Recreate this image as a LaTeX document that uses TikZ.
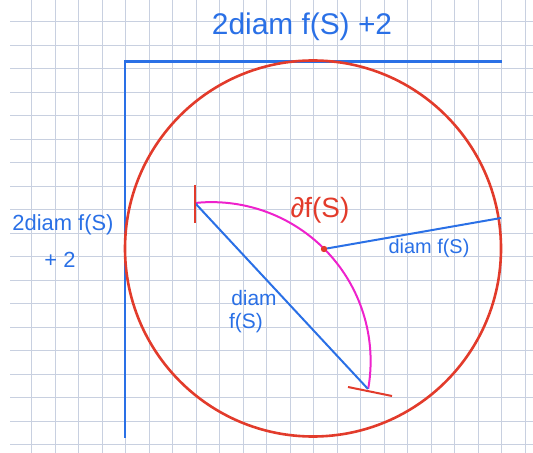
\documentclass[tikz,border=0pt]{standalone}
\usepackage{fontspec}
\setmainfont{Liberation Sans}
\usepackage{tikz}
\definecolor{penblue}{RGB}{42,112,230}
\definecolor{penred}{RGB}{226,59,43}
\definecolor{penpink}{RGB}{238,34,204}
\definecolor{gridline}{RGB}{200,208,224}

\begin{document}
\begin{tikzpicture}[x=1bp,y=-1bp]
\tikzset{lbl/.style={inner sep=0pt,text=penblue},
  bl/.style={penblue,line width=2.4bp},
  rd/.style={penred,line width=2.6bp}}

\useasboundingbox (0,0) rectangle (533,453);
\foreach \i in {1,...,22} \draw[gridline,line width=0.9bp] (8.2+23.5*\i,0) -- (8.2+23.5*\i,453);
\foreach \j in {0,...,18} \draw[gridline,line width=0.9bp] (10,21.7+23.5*\j) -- (533,21.7+23.5*\j);

\coordinate (c1) at (125,437.5);
\coordinate (c2) at (125,61.7);
\coordinate (c3) at (502,61.7);
\draw[bl] (c1) -- (c2) -- (c3);

\coordinate (O) at (313,248.5);
\draw[rd] (O) circle[radius=188];

\coordinate (a) at (195,203);
\coordinate (b) at (368,389);
\coordinate (p) at (324,249);
\coordinate (q) at (501,218);
\draw[penpink,line width=2bp] (a) arc[start angle=-96,end angle=10,radius=159];
\draw[bl,line width=2bp] (a) -- (b);
\draw[bl,line width=2bp] (p) -- (q);
\coordinate (t1) at (195,185);
\coordinate (t2) at (195,223);
\coordinate (t3) at (348,387);
\coordinate (t4) at (392,396);
\draw[penred,line width=2bp] (t1) -- (t2);
\draw[penred,line width=2bp] (t3) -- (t4);
\fill[penred] (p) circle[radius=3.2];

\node[lbl,font=\fontsize{30}{30}\selectfont] (top) at (302,27) {2diam f(S) +2};
\node[lbl,font=\fontsize{22}{22}\selectfont] (side) at (63,225) {2diam f(S)};
\node[lbl,font=\fontsize{22}{22}\selectfont] (sideplus) at (60,260) {+ 2};
\node[lbl,text=penred,font=\fontsize{28}{28}\selectfont] (bd) at (320,210) {∂f(S)};
\node[lbl,font=\fontsize{20}{20}\selectfont] (rdiam) at (429,248) {diam f(S)};
\node[lbl,font=\fontsize{21}{21}\selectfont] (ddiam) at (254,298) {diam};
\node[lbl,font=\fontsize{21}{21}\selectfont] (dfs) at (246,323) {f(S)};
\end{tikzpicture}
\end{document}
